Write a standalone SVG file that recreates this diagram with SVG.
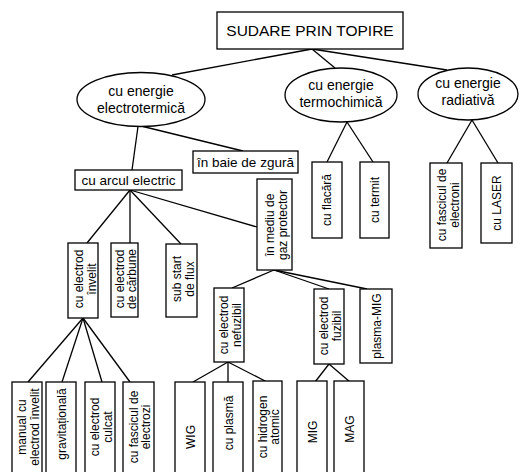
<svg xmlns="http://www.w3.org/2000/svg" width="520" height="472" viewBox="0 0 520 472">
<style>
.b{fill:#fff;stroke:#000;stroke-width:1.3}
.c line{stroke:#000;stroke-width:1.3}
text{font-family:"Liberation Sans",Arial,sans-serif;fill:#000}
.t{font-size:12px;text-anchor:middle}
.h{font-size:14px;text-anchor:middle}
.m{font-size:13.5px;text-anchor:middle}
</style>
<rect width="520" height="472" fill="#fff"/>
<g class="c" id="connectors">
<line x1="312" y1="49" x2="172" y2="75"/>
<line x1="312" y1="49" x2="335" y2="68"/>
<line x1="312" y1="49" x2="447" y2="70"/>
<line x1="143" y1="126.5" x2="243" y2="151"/>
<line x1="138" y1="126.5" x2="132" y2="170"/>
<line x1="130" y1="190" x2="87" y2="243"/>
<line x1="130" y1="190" x2="130" y2="243"/>
<line x1="130" y1="190" x2="181" y2="244"/>
<line x1="130" y1="190" x2="257" y2="227"/>
<line x1="83" y1="318" x2="28" y2="382"/>
<line x1="83" y1="318" x2="62" y2="382"/>
<line x1="83" y1="318" x2="102" y2="382"/>
<line x1="83" y1="318" x2="130" y2="382"/>
<line x1="274" y1="270" x2="232" y2="288"/>
<line x1="274" y1="270" x2="329" y2="289"/>
<line x1="274" y1="270" x2="367" y2="289"/>
<line x1="228" y1="362" x2="193" y2="382"/>
<line x1="228" y1="362" x2="228" y2="382"/>
<line x1="228" y1="362" x2="267" y2="382"/>
<line x1="329" y1="364" x2="315" y2="382"/>
<line x1="329" y1="364" x2="350" y2="382"/>
<line x1="347" y1="122" x2="327" y2="162"/>
<line x1="347" y1="122" x2="373" y2="162"/>
<line x1="472" y1="120" x2="447" y2="163"/>
<line x1="472" y1="120" x2="498" y2="163"/>
</g>
<g id="n-root"><rect class="b" x="217" y="12" width="186" height="37"/><text x="310" y="36" style="font-size:15.5px;text-anchor:middle">SUDARE PRIN TOPIRE</text></g>
<g id="n-electrotermica"><ellipse class="b" cx="141" cy="99.5" rx="64" ry="27"/><text class="h" x="141" y="95.5">cu energie</text><text class="h" x="141" y="113">electrotermică</text></g>
<g id="n-termochimica"><ellipse class="b" cx="341" cy="95" rx="56" ry="27"/><text class="h" x="341" y="90">cu energie</text><text class="h" x="341" y="107">termochimică</text></g>
<g id="n-radiativa"><ellipse class="b" cx="468" cy="94" rx="50" ry="26"/><text class="h" x="468" y="88">cu energie</text><text class="h" x="468" y="105">radiativă</text></g>
<g id="n-baie"><rect class="b" x="193" y="151" width="105" height="22"/><text class="m" x="245.5" y="167">în baie de zgură</text></g>
<g id="n-arcul"><rect class="b" x="75" y="170" width="107" height="20"/><text class="m" x="128.5" y="184.5">cu arcul electric</text></g>
<g id="n-invelit"><rect class="b" x="68" y="243" width="30" height="75"/><text class="t" transform="translate(83,279) rotate(-90)"><tspan x="0" y="0">cu electrod</tspan><tspan x="0" y="13">învelit</tspan></text></g>
<g id="n-carbune"><rect class="b" x="111" y="243" width="27" height="74"/><text class="t" transform="translate(124.5,279) rotate(-90)"><tspan x="0" y="-1">cu electrod</tspan><tspan x="0" y="11.5">de cărbune</tspan></text></g>
<g id="n-flux"><rect class="b" x="166" y="244" width="31" height="73"/><text class="t" transform="translate(181.5,279) rotate(-90)"><tspan x="0" y="-1">sub start</tspan><tspan x="0" y="12">de flux</tspan></text></g>
<g id="n-mediu"><rect class="b" x="257" y="179" width="35" height="91"/><text class="t" transform="translate(274.5,225) rotate(-90)"><tspan x="0" y="-0.5">în mediu de</tspan><tspan x="0" y="12.5">gaz protector</tspan></text></g>
<g id="n-flacara"><rect class="b" x="312" y="162" width="30" height="76"/><text class="t" transform="translate(331,200) rotate(-90)">cu flacără</text></g>
<g id="n-termit"><rect class="b" x="360" y="162" width="29" height="76"/><text class="t" transform="translate(379,200) rotate(-90)">cu termit</text></g>
<g id="n-fascicul-e"><rect class="b" x="430" y="163" width="32" height="85"/><text class="t" transform="translate(446,205) rotate(-90)"><tspan x="0" y="0">cu fascicul de</tspan><tspan x="0" y="12.5">electroni</tspan></text></g>
<g id="n-laser"><rect class="b" x="481" y="163" width="31" height="80"/><text class="t" transform="translate(501,203) rotate(-90)">cu LASER</text></g>
<g id="n-nefuzibil"><rect class="b" x="214" y="288" width="30" height="74"/><text class="t" transform="translate(229,325) rotate(-90)"><tspan x="0" y="-1">cu electrod</tspan><tspan x="0" y="11.5">nefuzibil</tspan></text></g>
<g id="n-fuzibil"><rect class="b" x="314" y="289" width="30" height="75"/><text class="t" transform="translate(329,326) rotate(-90)"><tspan x="0" y="-1">cu electrod</tspan><tspan x="0" y="11.5">fuzibil</tspan></text></g>
<g id="n-plasmamig"><rect class="b" x="360" y="289" width="32" height="74"/><text class="t" transform="translate(380.5,326) rotate(-90)">plasma-MIG</text></g>
<g id="n-manual"><rect class="b" x="12" y="382" width="30" height="100"/><text class="t" transform="translate(27,427) rotate(-90)"><tspan x="0" y="-1">manual cu</tspan><tspan x="0" y="11.5">electrod învelit</tspan></text></g>
<g id="n-gravitationala"><rect class="b" x="46" y="382" width="30" height="100"/><text class="t" transform="translate(65.5,424) rotate(-90)">gravitațională</text></g>
<g id="n-culcat"><rect class="b" x="85" y="382" width="30" height="100"/><text class="t" transform="translate(100,427) rotate(-90)"><tspan x="0" y="-1">cu electrod</tspan><tspan x="0" y="11.5">culcat</tspan></text></g>
<g id="n-fascicul-z"><rect class="b" x="123" y="382" width="31" height="100"/><text class="t" transform="translate(138.5,427) rotate(-90)"><tspan x="0" y="-1">cu fascicul de</tspan><tspan x="0" y="11.5">electrozi</tspan></text></g>
<g id="n-wig"><rect class="b" x="175" y="382" width="30" height="100"/><text class="t" transform="translate(194.5,437) rotate(-90)">WIG</text></g>
<g id="n-plasma"><rect class="b" x="213" y="382" width="30" height="100"/><text class="t" transform="translate(232.5,423) rotate(-90)">cu plasmă</text></g>
<g id="n-hidrogen"><rect class="b" x="253" y="381" width="29" height="101"/><text class="t" transform="translate(267.5,427) rotate(-90)"><tspan x="0" y="-1">cu hidrogen</tspan><tspan x="0" y="11.5">atomic</tspan></text></g>
<g id="n-mig"><rect class="b" x="297" y="381" width="30" height="101"/><text class="t" transform="translate(316.5,432) rotate(-90)">MIG</text></g>
<g id="n-mag"><rect class="b" x="334" y="381" width="30" height="101"/><text class="t" transform="translate(353.5,429) rotate(-90)">MAG</text></g>
</svg>
